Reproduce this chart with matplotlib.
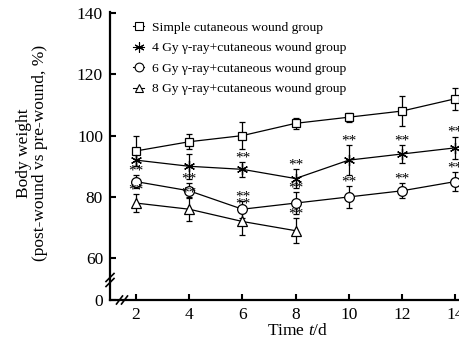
import matplotlib
matplotlib.use("Agg")
import matplotlib.pyplot as plt
from matplotlib.lines import Line2D
import numpy as np

plt.rcParams['font.family'] = ['Liberation Serif', 'DejaVu Serif']
plt.rcParams['mathtext.fontset'] = 'custom'
plt.rcParams['mathtext.rm'] = 'Liberation Serif'
plt.rcParams['mathtext.it'] = 'Liberation Serif:italic'

# data
days = [2, 4, 6, 8, 10, 12, 14]
simple_mean = [95, 98, 100, 104, 106, 108, 112]
simple_err = [5, 2.5, 4.4, 1.8, 1.5, 5, 3.6]
gy4_mean = [92, 90, 89, 86, 92, 94, 96]
gy4_err = [2, 4, 2.5, 3.2, 5, 3, 3.7]
gy6_mean = [85, 82, 76, 78, 80, 82, 85]
gy6_err = [2, 2.5, 2.8, 3.5, 3.6, 2.5, 3]
gy8_days = [2, 4, 6, 8]
gy8_mean = [78, 76, 72, 69]
gy8_err = [3, 4, 4.5, 4]

# which points carry "**"
gy4_sig = [False, False, True, True, True, True, True]
gy6_sig = [True, True, True, True, True, True, True]
gy8_sig = [True, True, True, True]

labels = ['Simple cutaneous wound group',
          '4 Gy \u03b3-ray+cutaneous wound group',
          '6 Gy \u03b3-ray+cutaneous wound group',
          '8 Gy \u03b3-ray+cutaneous wound group']
markers = ['s', (6, 2, 0), 'o', '^']
msizes = [6, 8, 7, 7]

fig = plt.figure(figsize=(4.59, 3.55), dpi=100)
ax = fig.add_axes([110 / 459, 1 - 300 / 355, 348 / 459, 288 / 355])

ybot = 46.4
common = dict(color='black', lw=0.9, capsize=2.5, elinewidth=0.9, capthick=0.9,
              mfc='white', mec='black', mew=0.9)
series = [(days, simple_mean, simple_err), (days, gy4_mean, gy4_err),
          (days, gy6_mean, gy6_err), (gy8_days, gy8_mean, gy8_err)]
for (xs, m, e), mk, sz in zip(series, markers, msizes):
    ax.errorbar(xs, m, yerr=e, marker=mk, ms=sz, **common)

for xs, ms_, es, sig in [(days, gy4_mean, gy4_err, gy4_sig),
                         (days, gy6_mean, gy6_err, gy6_sig),
                         (gy8_days, gy8_mean, gy8_err, gy8_sig)]:
    for x, m, e, s in zip(xs, ms_, es, sig):
        if s:
            ax.text(x, m + e - 0.8, '**', ha='center', va='bottom', fontsize=11)

ax.set_xlim(1.02, 14.11)
ax.set_ylim(ybot, 140.3)
ax.set_xticks(days)
ax.set_yticks([ybot, 60, 80, 100, 120, 140])
ax.set_yticklabels(['0', '60', '80', '100', '120', '140'])
ax.tick_params(direction='in', length=4, width=1.5, labelsize=12.5, pad=5)
for s in ['top', 'right']:
    ax.spines[s].set_visible(False)
for s in ['left', 'bottom']:
    ax.spines[s].set_linewidth(1.6)

# axis break marks
bw, bh = 348.0, 288.0
def brk(xc, yc):
    for off in (-2.5, 2.5):
        if xc == 0:
            xs = [xc - 4 / bw, xc + 4 / bw]
            ys = [yc + off / bh - 4 / bh, yc + off / bh + 4 / bh]
        else:
            xs = [xc + off / bw - 3 / bw, xc + off / bw + 3 / bw]
            ys = [yc - 4 / bh, yc + 4 / bh]
        ax.plot(xs, ys, transform=ax.transAxes, color='black', lw=1.2, clip_on=False)

brk(0, (300 - 280) / bh)
brk((122 - 110) / bw, 0)

ax.set_xlabel('Time $\\it{t}$/d', fontsize=12.5)
ax.xaxis.set_label_coords((298 - 110) / bw, -(323 - 300) / bh)
ax.set_ylabel('Body weight\n(post-wound vs pre-wound, %)', fontsize=12.5, linespacing=1.0)
ax.yaxis.set_label_coords(-(110 - 48) / bw, (300 - 153) / bh)

handles = [Line2D([], [], color='black', lw=0.8, marker=mk, ms=sz * 0.9,
                  mfc='white', mec='black', mew=0.8)
           for mk, sz in zip(markers, msizes)]
ax.legend(handles, labels, loc='upper left', bbox_to_anchor=(0.04, 1.0), frameon=False,
          fontsize=9.7, handlelength=0.8, handletextpad=0.6, labelspacing=0.6,
          borderpad=0.2)

fig.savefig('out.png', dpi=100)
